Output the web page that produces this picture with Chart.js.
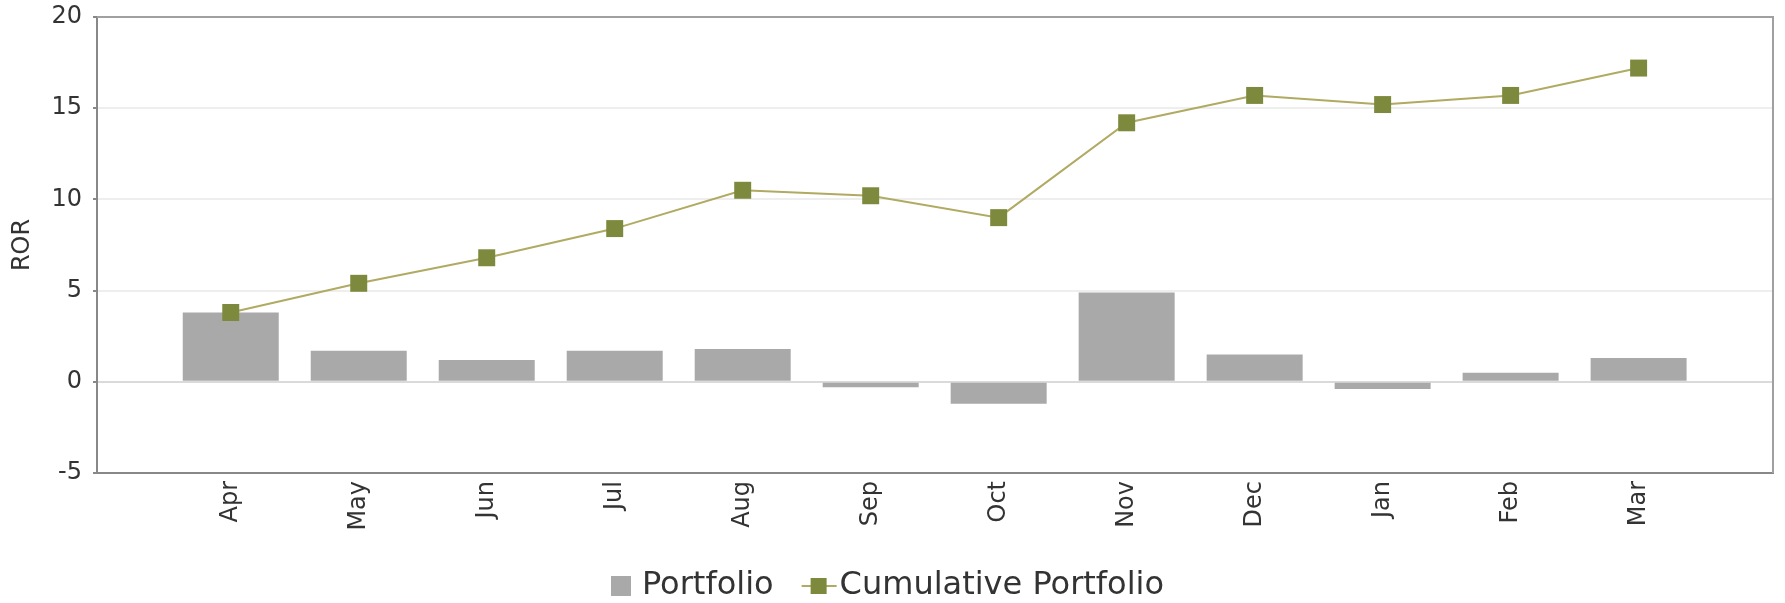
<!DOCTYPE html>
<html>
<head>
<meta charset="utf-8">
<script src="https://cdn.jsdelivr.net/npm/chart.js@4/dist/chart.umd.min.js"></script>
<style>
  html, body { margin: 0; padding: 0; background: #fff; }
  canvas { display: block; }
</style>
</head>
<body>
<canvas id="rorChart" width="1785" height="603"></canvas>
<script>
'use strict';

// ── Data ──────────────────────────────────────────────────
const MONTHS     = ['Apr','May','Jun','Jul','Aug','Sep','Oct','Nov','Dec','Jan','Feb','Mar'];
const PORTFOLIO  = [3.8, 1.7, 1.2, 1.7, 1.8, -0.3, -1.2, 4.9, 1.5, -0.4, 0.5, 1.3];
const CUMULATIVE = [3.8, 5.4, 6.8, 8.4, 10.5, 10.2, 9.0, 14.2, 15.7, 15.2, 15.7, 17.2];
const Y_TICKS    = [-5, 0, 5, 10, 15, 20];

// ── Colors ────────────────────────────────────────────────
const C = {
  bar:    '#a9a9a9',
  line:   '#b0aa62',
  marker: '#7d8a3d',
  axis:   '#888888',
  frame:  '#a0a0a0',
  grid:   '#eeeeee',
  zero:   '#dadada',
  text:   '#333333',
};
const FONT = { family: "'DejaVu Sans', sans-serif", size: 24 };

// ── Legend symbols ────────────────────────────────────────
// drawn 80px wide on a 48px legend box, so they spill 16px each side
function legendImage(draw) {
  const cv = document.createElement('canvas');
  cv.width = 80; cv.height = 24;
  draw(cv.getContext('2d'));
  return cv;
}
const barSymbol = legendImage(g => {
  g.fillStyle = C.bar;
  g.fillRect(49, 2, 20, 20);
});
const lineSymbol = legendImage(g => {
  g.strokeStyle = C.line;
  g.lineWidth = 2;
  g.beginPath(); g.moveTo(42, 12); g.lineTo(77, 12); g.stroke();
  g.fillStyle = C.marker;
  g.fillRect(51, 4, 16, 16);
});

// ── Plugins ───────────────────────────────────────────────
const framePlugin = {
  id: 'frame',
  afterDatasetsDraw(chart) {
    const { ctx, chartArea: a } = chart;
    ctx.save();
    ctx.strokeStyle = C.frame;
    ctx.lineWidth = 2;
    ctx.beginPath();
    ctx.moveTo(a.left, a.top);
    ctx.lineTo(a.right, a.top);
    ctx.lineTo(a.right, a.bottom);
    ctx.stroke();
    ctx.restore();
  }
};
const legendHeight = {
  id: 'legendHeight',
  beforeInit(chart) {
    const fit = chart.legend.fit;
    chart.legend.fit = function () {
      fit.call(this);
      this.height = 35;
      // the first symbol sits right of its box; re-centre the row
      if (this.lineWidths && this.lineWidths.length) this.lineWidths[0] += 34;
    };
  }
};

// ── Chart ─────────────────────────────────────────────────
new Chart(document.getElementById('rorChart'), {
  type: 'bar',
  data: {
    datasets: [
      {
        type: 'bar',
        label: 'Portfolio',
        data: PORTFOLIO.map((v, i) => ({ x: i, y: v })),
        backgroundColor: C.bar,
        borderWidth: 0,
        barPercentage: 0.75,
        categoryPercentage: 1,
        order: 2,
      },
      {
        type: 'line',
        label: 'Cumulative Portfolio',
        data: CUMULATIVE.map((v, i) => ({ x: i, y: v })),
        borderColor: C.line,
        borderWidth: 2,
        tension: 0,
        pointStyle: 'rect',
        pointRadius: 12,
        pointHoverRadius: 12,
        pointBackgroundColor: C.marker,
        pointBorderColor: C.marker,
        pointBorderWidth: 0,
        fill: false,
        order: 1,
      }
    ]
  },
  options: {
    responsive: false,
    animation: false,
    devicePixelRatio: 1,
    layout: { padding: { top: 17, right: 9, left: 0, bottom: 0 } },
    plugins: {
      tooltip: { enabled: false },
      legend: {
        position: 'bottom',
        labels: {
          usePointStyle: true,
          pointStyleWidth: 48,
          padding: 2,
          color: C.text,
          font: { family: FONT.family, size: 32 },
          sort: (a, b) => a.datasetIndex - b.datasetIndex,
          generateLabels(chart) {
            const items = Chart.defaults.plugins.legend.labels.generateLabels(chart);
            items.forEach(it => {
              it.pointStyle = it.datasetIndex === 0 ? barSymbol : lineSymbol;
            });
            return items;
          }
        }
      }
    },
    scales: {
      x: {
        type: 'linear',
        offset: false,
        min: -1.045,
        max: 12.05,
        afterBuildTicks: s => { s.ticks = MONTHS.map((_, i) => ({ value: i })); },
        afterFit: s => { s.height = 95; },
        grid: { display: true, offset: false, color: 'transparent', drawTicks: false },
        border: { display: true, color: C.axis, width: 2 },
        ticks: {
          autoSkip: false,
          minRotation: 90,
          maxRotation: 90,
          padding: 8,
          color: C.text,
          font: FONT,
          callback: v => MONTHS[v],
        }
      },
      y: {
        min: -5,
        max: 20,
        afterBuildTicks: s => { s.ticks = Y_TICKS.map(v => ({ value: v })); },
        afterFit: s => { s.width = 97; s.paddingTop = 0; s.paddingBottom = 0; },
        grid: {
          color: c => (c.tick && c.tick.value === 0) ? C.zero : C.grid,
          lineWidth: 2,
          tickColor: C.axis,
          tickLength: 4,
        },
        border: { display: true, color: C.axis, width: 2 },
        ticks: { padding: 11, color: C.text, font: FONT },
        title: {
          display: true,
          text: 'ROR',
          color: C.text,
          font: FONT,
          padding: { top: 8, bottom: 4 },
        }
      }
    }
  },
  plugins: [framePlugin, legendHeight]
});
</script>
</body>
</html>
